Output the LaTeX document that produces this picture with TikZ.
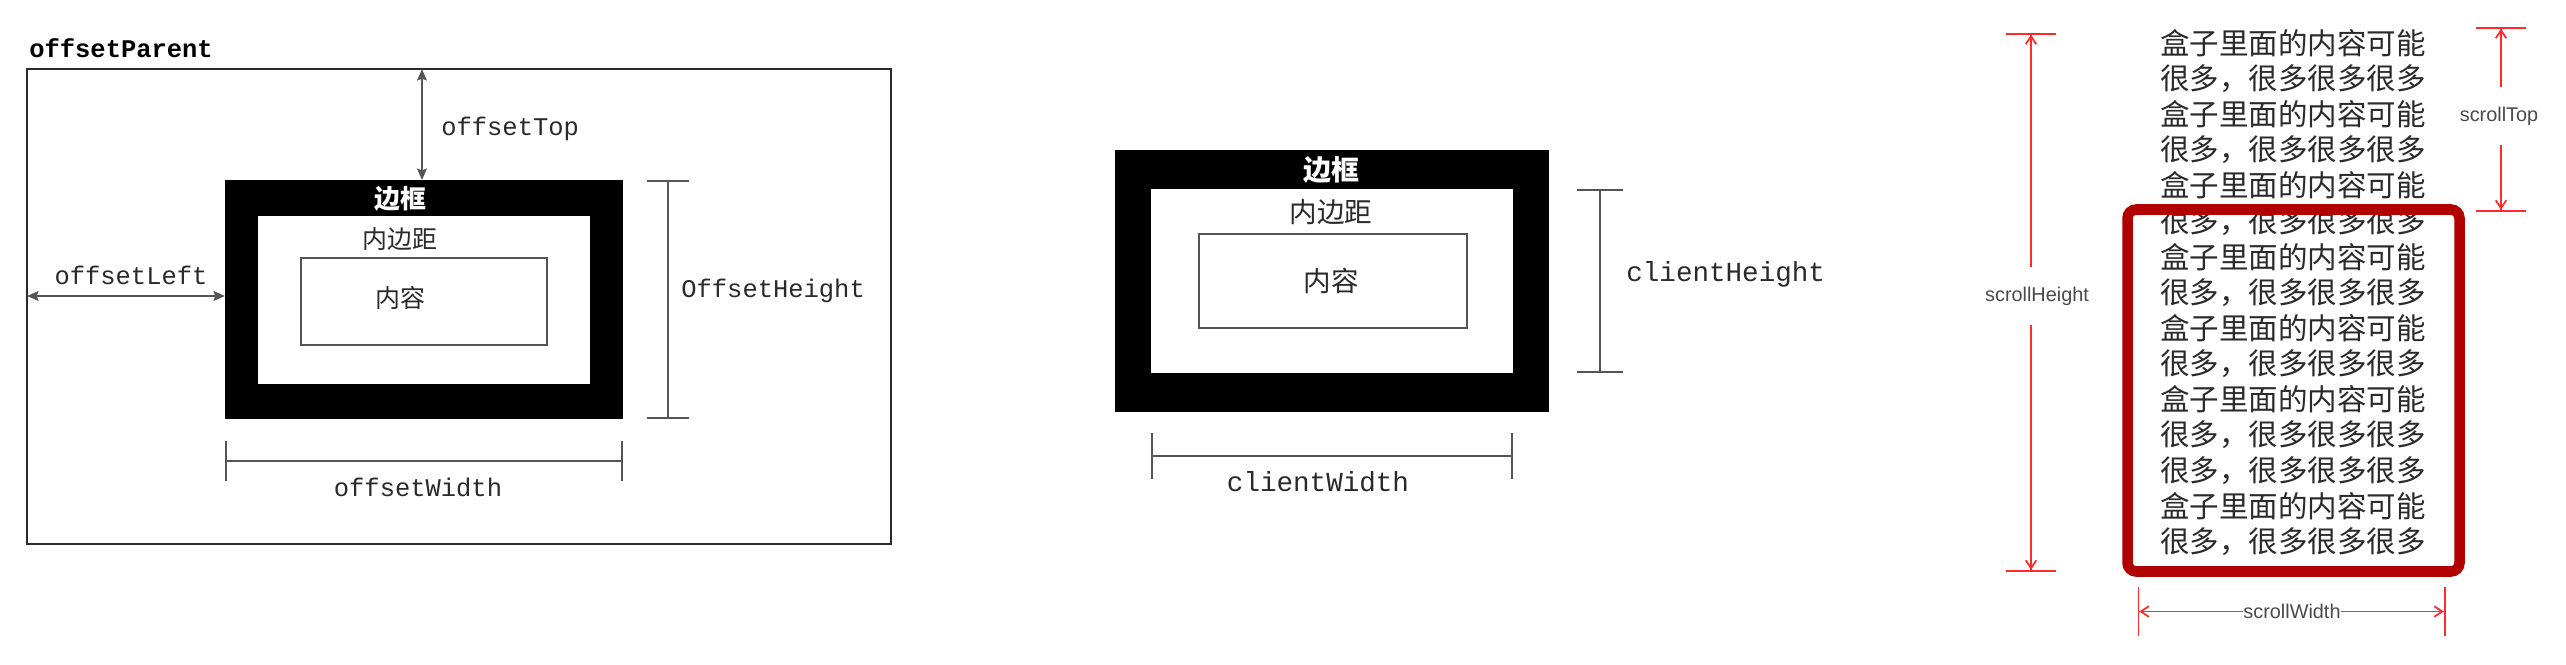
\documentclass[tikz,border=0pt]{standalone}
\usepackage{fontspec}
\setmainfont{Liberation Sans}
\setmonofont{Liberation Mono}
\newfontfamily\cjk{Noto Sans CJK SC}
\usetikzlibrary{arrows.meta,calc}
\definecolor{boxred}{HTML}{B00000}
\definecolor{dimred}{HTML}{FF2A2A}
\definecolor{inkgray}{HTML}{2A2A2A}
\definecolor{linegray}{HTML}{555555}
\newcommand\txtbox{盒子里面的内容可能}
\newcommand\txtmany{很多，很多很多很多}

\begin{document}
\begin{tikzpicture}[x=0.02cm, y=-0.02cm,
		sz/.style 2 args={inner sep=0pt, outer sep=0pt, minimum width={#1*0.02cm}, minimum height={#2*0.02cm}},
		mono/.style={font=\fontsize{14.5}{16}\selectfont\ttfamily, text=inkgray, inner sep=0pt},
		monobig/.style={font=\fontsize{15.7}{17}\selectfont\ttfamily, text=inkgray, inner sep=0pt},
		hanzi/.style={font=\fontsize{#1}{#1}\selectfont\cjk, text=inkgray, inner sep=0pt},
		txt/.style={font=\fontsize{16.8}{20}\selectfont\cjk, text=inkgray, inner sep=0pt, anchor=west},
		sans/.style={font=\fontsize{11.3}{12}\selectfont, text=inkgray!85, fill=white},
		twoway/.style={draw=linegray, line width=1.2pt, {Stealth[length=6.5pt,width=5.5pt,inset=1pt]}-{Stealth[length=6.5pt,width=5.5pt,inset=1pt]}},
		bardim/.style={draw=linegray, line width=1pt, {Bar[width=#1]}-{Bar[width=#1]}},
		rdim/.style={draw=dimred, line width=1pt, {Bar[width=28pt] Straight Barb[length=4.5pt,width=6pt,sep=0pt]}-{Straight Barb[length=4.5pt,width=6pt,sep=0pt] Bar[width=28pt]}}]
	\useasboundingbox (0,0) rectangle (2566,664);

	\node[draw=inkgray, line width=1pt, sz={864}{475}] (parent) at (459,306.5) {};
	\node[mono, font=\fontsize{14.5}{16}\selectfont\ttfamily\bfseries, text=black, anchor=west] (parentlbl) at (29,48) {offsetParent};
	\node[fill=black, sz={398}{239}] (obox) at (424,299.5) {};
	\node[fill=white, sz={332}{168}] (opad) at (424,300) {};
	\node[draw=linegray, line width=1pt, fill=white, sz={246}{87}] (ocont) at (424,301.5) {};
	\node[hanzi=14.7, font=\fontsize{14.7}{15}\selectfont\cjk\bfseries, text=white] (oborder) at (400,199) {边框};
	\node[hanzi=14.2] (opadlbl) at (400,239) {内边距};
	\node[hanzi=14.2] (ocontlbl) at (400,298) {内容};

	\draw[twoway] (parent.north -| 422,0) -- (obox.north -| 422,0);
	\node[mono, anchor=west] (toplbl) at (441,129) {offsetTop};
	\draw[twoway] (parent.west |- 0,296) -- (obox.west |- 0,296);
	\node[mono] (leftlbl) at (131,275) {offsetLeft};
	\draw[bardim=24pt] ($(obox.north east)+(45,0)$) -- ($(obox.south east)+(45,0)$);
	\node[mono, anchor=west] (heightlbl) at (681,291) {OffsetHeight};
	\draw[bardim=23pt] ($(obox.south west)+(0,42)$) -- ($(obox.south east)+(0,42)$);
	\node[mono] (widthlbl) at (418,487) {offsetWidth};

	\node[fill=black, sz={434}{262}] (cbox) at (1332,281) {};
	\node[fill=white, sz={362}{184}] (cpad) at (1332,281) {};
	\node[draw=linegray, line width=1pt, fill=white, sz={268}{94}] (ccont) at (1333,281) {};
	\node[hanzi=15.9, font=\fontsize{15.9}{16}\selectfont\cjk\bfseries, text=white] (cborder) at (1331,170) {边框};
	\node[hanzi=15.7] (cpadlbl) at (1331,212) {内边距};
	\node[hanzi=15.7] (ccontlbl) at (1331,281) {内容};

	\draw[bardim=26pt] ($(cpad.north east)+(87,0)$) -- ($(cpad.south east)+(87,0)$);
	\node[monobig, anchor=west] (cheightlbl) at (1626,274) {clientHeight};
	\draw[bardim=26pt] ($(cpad.south west |- cbox.south)+(0,44)$) -- ($(cpad.south east |- cbox.south)+(0,44)$);
	\node[monobig] (cwidthlbl) at (1318,482) {clientWidth};

	\foreach \t [count=\i] in {\txtbox,\txtmany,\txtbox,\txtmany,\txtbox,\txtmany,\txtbox,\txtmany,\txtbox,\txtmany,\txtbox,\txtmany,\txtmany,\txtbox,\txtmany}
		\node[txt] (ln\i) at (2160,{43+35.64*(\i-1)}) {\t};
	\node[draw=boxred, line width=6pt, rounded corners=5pt, sz={332}{362}] (rbox) at (2293.5,390.5) {};

	\coordinate (shtop) at (2031,33);
	\draw[rdim] (shtop) -- (shtop |- rbox.south);
	\node[sans, inner xsep=1pt, inner ysep=11pt] (shlbl) at (2037,296) {scrollHeight};
	\coordinate (sttop) at (2501,27);
	\draw[rdim] (sttop) -- ($(sttop |- rbox.north)+(0,2)$);
	\node[sans, inner xsep=1pt, inner ysep=11pt] (stlbl) at (2499,116) {scrollTop};
	\draw[rdim] ($(rbox.south west)+(10,40)$) -- ($(rbox.south east)+(-14,40)$);
	\node[sans, inner xsep=0.5pt, inner ysep=1pt] (swlbl) at (2292,611) {scrollWidth};
\end{tikzpicture}
\end{document}
